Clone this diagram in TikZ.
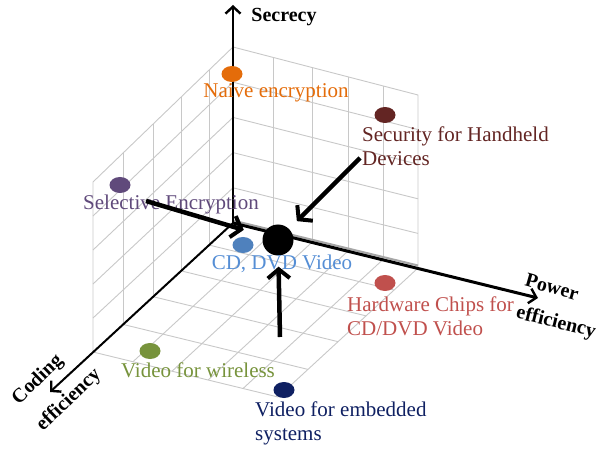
\documentclass[tikz,border=0pt]{standalone}
\usepackage{fontspec}
\setmainfont{Liberation Serif}
\usetikzlibrary{arrows.meta,shapes.geometric,calc}

\definecolor{gridgray}{HTML}{C8C8C8}
\definecolor{edgegray}{HTML}{A6A6A6}
\definecolor{naivec}{HTML}{E46C0A}
\definecolor{handc}{HTML}{632523}
\definecolor{selc}{HTML}{604A7B}
\definecolor{cddot}{HTML}{4F81BD}
\definecolor{cdtext}{HTML}{558ED5}
\definecolor{hwc}{HTML}{C0504D}
\definecolor{wlc}{HTML}{77933C}
\definecolor{embc}{HTML}{0F2062}

\tikzset{
  gridline/.style={draw=gridgray, line width=0.9pt},
  axisline/.style={draw=black, line width=2.4pt, -{Straight Barb[length=7pt,width=15pt,line width=2.4pt]}},
  pushline/.style={draw=black, line width=4.5pt, -{Straight Barb[length=9pt,width=22pt,line width=4pt]}},
  dot/.style={ellipse, minimum width=21pt, minimum height=16pt, inner sep=0pt, draw=none},
  lbl/.style={font=\fontsize{21}{24}\selectfont, inner sep=0pt},
  axlbl/.style={font=\fontsize{20}{22}\selectfont\bfseries, inner sep=0pt},
}

\begin{document}
\begin{tikzpicture}[x=1pt, y=-1pt]
\useasboundingbox (0,0) rectangle (600,449);

% corners of the three grid planes
\coordinate (O)  at (233,223);
\coordinate (T)  at (233,47);
\coordinate (TR) at (418,95);
\coordinate (R)  at (418,268);
\coordinate (TL) at (93,182);
\coordinate (L)  at (93,352);
\coordinate (F)  at (278,397);

% back wall
\foreach \p in {.216,.427,.622,.811}
  \draw[gridline] ($(O)!\p!(R)$) -- ($(T)!\p!(TR)$);
\foreach \q in {.2,.4,.6,.8}
  \draw[gridline] ($(O)!\q!(T)$) -- ($(R)!\q!(TR)$);
\draw[gridline] (T) -- (TR) -- (R);

% side wall
\foreach \c in {.171,.371,.571,.786}
  \draw[gridline] ($(O)!\c!(L)$) -- ($(T)!\c!(TL)$);
\foreach \q in {.2,.4,.6,.8}
  \draw[gridline] ($(O)!\q!(T)$) -- ($(L)!\q!(TL)$);
\draw[gridline] (T) -- (TL) -- (L);

% floor
\foreach \p in {.216,.427,.622,.811}
  \draw[gridline] ($(O)!\p!(R)$) -- ($(L)!\p!(F)$);
\foreach \c in {.171,.371,.571,.786}
  \draw[gridline] ($(O)!\c!(L)$) -- ($(R)!\c!(F)$);
\draw[gridline] (L) -- (F) -- (R);

% thicker edge where floor meets the back wall
\draw[draw=edgegray, line width=2pt] ($(O)+(0,-2.5)$) -- ($(R)+(0,-2.5)$);

% axes
\coordinate (secTip) at (233,5);
\coordinate (powTip) at (538,298);
\coordinate (codTip) at (50,392);
\draw[axisline] (O) -- (secTip);
\draw[axisline, line width=3pt] (O) -- (powTip);
\draw[axisline, line width=2pt] (O) -- (codTip);

\node[axlbl] (secL) at (284,17) {Secrecy};
\node[axlbl, rotate=-16] (powL1) at (552,287) {Power};
\node[axlbl, rotate=-14] (powL2) at (556,323) {efficiency};
\node[axlbl, rotate=44] (codL1) at (38,380) {Coding};
\node[axlbl, rotate=44] (codL2) at (69,400) {efficiency};

% data points
\node[dot, fill=naivec] (naive) at (232,74) {};
\node[dot, fill=handc]  (hand)  at (385,115) {};
\node[dot, fill=selc]   (sel)   at (120,185) {};
\node[dot, fill=cddot]  (cd)    at (243,245) {};
\node[dot, fill=hwc]    (hw)    at (385,283) {};
\node[dot, fill=wlc]    (wl)    at (150,351) {};
\node[dot, fill=embc]   (emb)   at (284,390) {};
\node[circle, fill=black, minimum size=31pt, inner sep=0pt] (target) at (278,240) {};

% labels
\node[lbl, text=naivec] (naiveL) at (276,93) {Naive encryption};
\node[lbl, text=handc, align=left, anchor=west] (handL) at (362,146) {Security for Handheld\\Devices};
\node[lbl, text=selc] (selL) at (171,204) {Selective Encryption};
\node[lbl, text=cdtext] (cdL) at (282,264) {CD, DVD Video};
\node[lbl, text=hwc, align=left, anchor=west] (hwL) at (347,316) {Hardware Chips for\\CD/DVD Video};
\node[lbl, text=wlc] (wlL) at (198,370) {Video for wireless};
\node[lbl, text=embc, align=left, anchor=west] (embL) at (255,423) {Video for embedded\\systems};

% arrows converging on the target
\coordinate (selStart) at (146,201);
\coordinate (handStart) at (360,158);
\coordinate (upStart) at (280,337);
\draw[pushline, shorten >=20pt] (selStart) -- (target);
\draw[pushline, shorten >=11pt] (handStart) -- (target);
\draw[pushline, shorten >=11pt] (upStart) -- (target);
\end{tikzpicture}
\end{document}
